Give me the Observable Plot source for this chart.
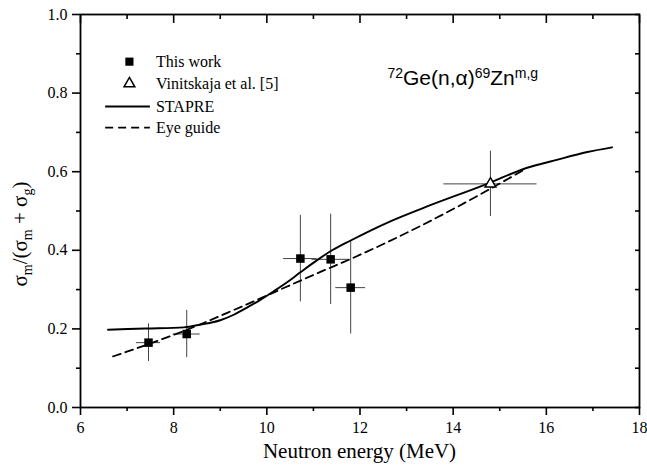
<!DOCTYPE html>
<html>
<head>
<meta charset="utf-8">
<script src="https://cdn.jsdelivr.net/npm/d3@7"></script>
<script src="https://cdn.jsdelivr.net/npm/@observablehq/plot@0.6"></script>
<style>
  html, body { margin: 0; padding: 0; background: white; }
</style>
</head>
<body>
<div id="chart"></div>
<script>
// ---- Data ----
const thisWorkE  = [7.46, 8.28, 10.72, 11.37, 11.80];
const thisWorkR  = [0.165, 0.187, 0.379, 0.377, 0.305];
const thisWorkDE = [0.26, 0.29, 0.36, 0.40, 0.32];
const thisWorkDR = [0.048, 0.06, 0.11, 0.115, 0.118];

const vinE  = [14.80];
const vinR  = [0.569];
const vinDE = [1.0];
const vinDR = [0.083];

const stapreE = [6.59, 7.40, 8.22, 8.58, 9.00, 9.29, 9.60, 9.86, 10.15, 10.45, 10.72, 11.08, 11.40, 11.80, 12.58, 13.30, 14.73, 15.59, 16.16, 16.88, 17.41];
const stapreR = [0.198, 0.201, 0.204, 0.211, 0.222, 0.236, 0.256, 0.274, 0.296, 0.320, 0.344, 0.375, 0.400, 0.425, 0.470, 0.505, 0.569, 0.610, 0.628, 0.650, 0.662];

const eyeE = [6.70, 7.43, 8.29, 9.29, 10.00, 11.15, 11.80, 13.30, 14.73, 15.55];
const eyeR = [0.130, 0.160, 0.198, 0.248, 0.285, 0.345, 0.378, 0.462, 0.552, 0.607];

const xMajor = [6, 8, 10, 12, 14, 16, 18];
const xMinor = [7, 9, 11, 13, 15, 17];
const yMajor = [0, 0.2, 0.4, 0.6, 0.8, 1.0];
const yMinor = [0.1, 0.3, 0.5, 0.7, 0.9];
const yAll   = [0, 0.1, 0.2, 0.3, 0.4, 0.5, 0.6, 0.7, 0.8, 0.9, 1.0];

const legendLabels = ["This work", "Vinitskaja et al. [5]", "STAPRE", "Eye guide"];
const legendY = [0.880, 0.824, 0.766, 0.712];
const legendSymX = 7.05, legendLineX1 = 6.54, legendLineX2 = 7.50, legendTextX = 7.62;

// ---- Tables ----
const thisWork = thisWorkE.map((e, i) => ({E: e, R: thisWorkR[i], dE: thisWorkDE[i], dR: thisWorkDR[i]}));
const vin = vinE.map((e, i) => ({E: e, R: vinR[i], dE: vinDE[i], dR: vinDR[i]}));
const stapre = stapreE.map((e, i) => ({E: e, R: stapreR[i]}));
const eye = eyeE.map((e, i) => ({E: e, R: eyeR[i]}));
const legend = legendLabels.map((t, i) => ({t, y: legendY[i]}));

const errBars = [...thisWork, ...vin];
const blank = () => "";
const SERIF = "Liberation Serif";

const chart = Plot.plot({
  width: 647,
  height: 472,
  marginLeft: 80,
  marginRight: 8,
  marginTop: 14,
  marginBottom: 65,
  x: {domain: [6, 18]},
  y: {domain: [0, 1]},
  style: {fontFamily: SERIF, fontSize: "16px", background: "white", color: "black", overflow: "visible"},
  marks: [
    // axes
    Plot.axisX({ticks: xMajor, tickSize: 8, tickPadding: 6, tickFormat: d => String(d), label: null, fontSize: 16, fontFamily: SERIF, fontVariant: "normal", strokeWidth: 1.6}),
    Plot.axisX({ticks: xMinor, tickSize: 4, tickFormat: blank, label: null, strokeWidth: 1.6}),
    Plot.axisX({anchor: "top", ticks: xMajor, tickSize: -8, tickFormat: blank, label: null, strokeWidth: 1.6}),
    Plot.axisX({anchor: "top", ticks: xMinor, tickSize: -4, tickFormat: blank, label: null, strokeWidth: 1.6}),
    Plot.axisY({ticks: yMajor, tickSize: 8, tickPadding: 5, tickFormat: d3.format(".1f"), label: null, fontSize: 16, fontFamily: SERIF, fontVariant: "normal", strokeWidth: 1.6}),
    Plot.axisY({ticks: yMinor, tickSize: 4, tickFormat: blank, label: null, strokeWidth: 1.6}),
    Plot.axisY({anchor: "right", ticks: yAll, tickSize: -5, tickFormat: blank, label: null, strokeWidth: 1.6}),
    Plot.frame({strokeWidth: 1.8}),
    // error bars
    Plot.ruleX(errBars, {x: "E", y1: d => d.R - d.dR, y2: d => d.R + d.dR, stroke: "#444", strokeWidth: 1}),
    Plot.ruleY(errBars, {y: "R", x1: d => d.E - d.dE, x2: d => d.E + d.dE, stroke: "#444", strokeWidth: 1}),
    // curves
    Plot.line(stapre, {x: "E", y: "R", curve: "monotone-x", stroke: "black", strokeWidth: 1.9}),
    Plot.line(eye, {x: "E", y: "R", curve: "monotone-x", stroke: "black", strokeWidth: 1.8, strokeDasharray: "8,5"}),
    // points
    Plot.dot(thisWork, {x: "E", y: "R", symbol: "square", r: 4.8, fill: "black", stroke: "none"}),
    Plot.dot(vin, {x: "E", y: "R", symbol: "triangle", r: 4.0, fill: "white", stroke: "black", strokeWidth: 1.5}),
    // legend
    Plot.dot(legend.slice(0, 1), {x: legendSymX, y: "y", symbol: "square", r: 4.6, fill: "black", stroke: "none"}),
    Plot.dot(legend.slice(1, 2), {x: legendSymX, y: "y", symbol: "triangle", r: 4.0, fill: "white", stroke: "black", strokeWidth: 1.5}),
    Plot.ruleY(legend.slice(2, 3), {y: "y", x1: legendLineX1, x2: legendLineX2, stroke: "black", strokeWidth: 1.9}),
    Plot.ruleY(legend.slice(3, 4), {y: "y", x1: legendLineX1, x2: legendLineX2, stroke: "black", strokeWidth: 1.8, strokeDasharray: "8,5"}),
    Plot.text(legend, {x: legendTextX, y: "y", text: "t", textAnchor: "start", fontSize: 16, fontFamily: SERIF, fill: "black"})
  ]
});

document.getElementById("chart").appendChild(chart);

// ---- Rich-text labels (superscripts / subscripts) ----
const sx = chart.scale("x").apply, sy = chart.scale("y").apply;
const svg = d3.select(chart);
svg.selectAll("text").style("font-family", "'Liberation Serif', 'Times New Roman', serif");

// Reaction title
const title = svg.append("text")
  .attr("x", sx(12.6)).attr("y", sy(0.82))
  .attr("text-anchor", "start")
  .style("font-family", "'Liberation Sans', Arial, sans-serif")
  .attr("font-size", 21).attr("fill", "black");
title.append("tspan").attr("font-size", 14).attr("dy", -7).text("72");
title.append("tspan").attr("dy", 7).text("Ge(n,α)");
title.append("tspan").attr("font-size", 14).attr("dy", -7).text("69");
title.append("tspan").attr("dy", 7).text("Zn");
title.append("tspan").attr("font-size", 14).attr("dy", -7).text("m,g");

// Y axis label
const yl = svg.append("text")
  .attr("transform", `translate(27,${sy(0.44)}) rotate(-90)`)
  .attr("text-anchor", "middle")
  .style("font-family", "'Liberation Serif', serif")
  .attr("font-size", 21).attr("fill", "black");
yl.append("tspan").text("σ");
yl.append("tspan").attr("font-size", 14).attr("dy", 5).text("m");
yl.append("tspan").attr("dy", -5).text("/(σ");
yl.append("tspan").attr("font-size", 14).attr("dy", 5).text("m");
yl.append("tspan").attr("dy", -5).text(" + σ");
yl.append("tspan").attr("font-size", 14).attr("dy", 5).text("g");
yl.append("tspan").attr("dy", -5).text(")");

// X axis label
svg.append("text")
  .attr("x", (sx(6) + sx(18)) / 2).attr("y", 458)
  .attr("text-anchor", "middle")
  .style("font-family", "'Liberation Serif', serif")
  .attr("font-size", 21).attr("fill", "black")
  .text("Neutron energy (MeV)");
</script>
</body>
</html>
